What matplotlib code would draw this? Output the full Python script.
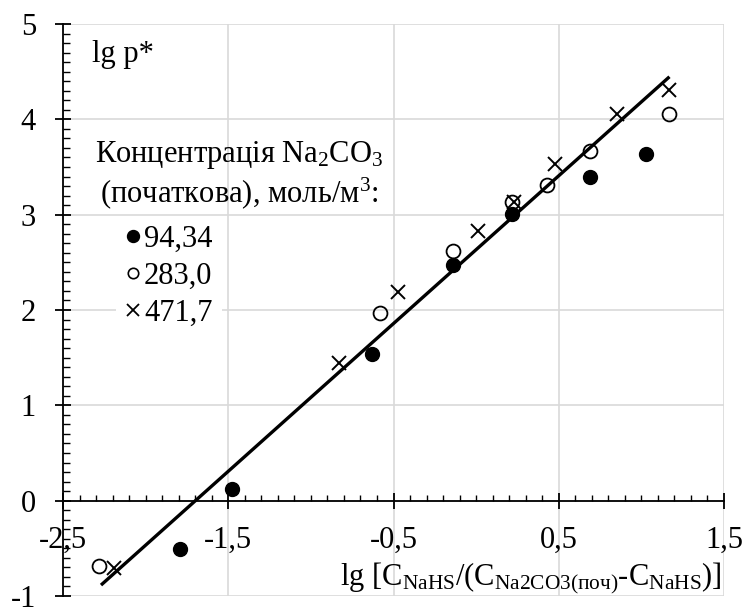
import matplotlib
matplotlib.use("Agg")
import matplotlib.pyplot as plt
import numpy as np
from matplotlib.ticker import MultipleLocator, FixedLocator
from matplotlib.lines import Line2D

plt.rcParams['font.family'] = ['Liberation Serif', 'DejaVu Serif']
plt.rcParams['mathtext.fontset'] = 'custom'
plt.rcParams['mathtext.rm'] = 'Liberation Serif'
plt.rcParams['mathtext.it'] = 'Liberation Serif:italic'
plt.rcParams['mathtext.default'] = 'rm'

# ---- data ----
x_94 = [-1.79, -1.48, -0.63, -0.14, 0.22, 0.69, 1.03]
y_94 = [-0.51, 0.12, 1.54, 2.47, 3.01, 3.40, 3.64]

x_283 = [-2.28, -0.58, -0.14, 0.22, 0.43, 0.69, 1.17]
y_283 = [-0.69, 1.97, 2.62, 3.13, 3.31, 3.67, 4.06]

x_472 = [-2.19, -0.83, -0.47, 0.01, 0.23, 0.48, 0.85, 1.17]
y_472 = [-0.71, 1.44, 2.19, 2.83, 3.13, 3.53, 4.06, 4.31]

fit_slope = 1.55
fit_intercept = 2.633
fit_x_range = [-2.27, 1.17]

series_labels = ['94,34', '283,0', '471,7']
x_ticks = [-2.5, -1.5, -0.5, 0.5, 1.5]
x_tick_labels = ['-2,5', '-1,5', '-0,5', '0,5', '1,5']
y_ticks = [-1, 0, 1, 2, 3, 4, 5]
y_tick_labels = ['-1', '0', '1', '2', '3', '4', '5']

FS = 22

# ---- figure ----
W, H = 747, 608
fig = plt.figure(figsize=(W / 100, H / 100), dpi=100)
ax = fig.add_axes([63 / W, 12 / H, 661 / W, 572 / H])
ax.set_xlim(-2.5, 1.5)
ax.set_ylim(-1, 5)

grid_c = '#d9d9d9'
for xv in x_ticks:
    ax.axvline(xv, color=grid_c, lw=1.2, zorder=0)
for yv in y_ticks:
    ax.axhline(yv, color=grid_c, lw=1.2, zorder=0)

ax.spines['top'].set_visible(False)
ax.spines['right'].set_visible(False)
ax.spines['bottom'].set_position(('data', 0))
ax.spines['bottom'].set_linewidth(1.3)
ax.spines['left'].set_linewidth(1.3)
ax.spines['bottom'].set_zorder(1)
ax.spines['left'].set_zorder(1)

ax.xaxis.set_major_locator(FixedLocator(x_ticks))
ax.set_xticklabels(x_tick_labels)
ax.xaxis.set_minor_locator(MultipleLocator(0.1))
ax.yaxis.set_major_locator(FixedLocator(y_ticks))
ax.set_yticklabels(y_tick_labels)
ax.yaxis.set_minor_locator(MultipleLocator(0.1))

ax.tick_params(axis='x', which='major', direction='inout', length=12, width=1.3,
               labelsize=FS, pad=12)
ax.tick_params(axis='x', which='minor', direction='in', length=4.3, width=1.0)
ax.tick_params(axis='y', which='major', direction='inout', length=11, width=1.3,
               labelsize=FS, pad=14)
ax.tick_params(axis='y', which='minor', direction='in', length=5, width=1.0)

# fit line
lx = np.array(fit_x_range)
ax.plot(lx, fit_slope * lx + fit_intercept, color='black', lw=2.4, zorder=3,
        solid_capstyle='butt')

ax.plot(x_94, y_94, linestyle='none', marker='o', ms=10, mfc='black',
        mec='black', zorder=4)
ax.plot(x_283, y_283, linestyle='none', marker='o', ms=10, mfc='none',
        mec='black', mew=1.3, zorder=4)
ax.plot(x_472, y_472, linestyle='none', marker='x', ms=9.5,
        mec='black', mew=1.4, zorder=4)

handles = [
    Line2D([], [], linestyle='none', marker='o', ms=8.6, mfc='black', mec='black'),
    Line2D([], [], linestyle='none', marker='o', ms=7.5, mfc='none', mec='black', mew=1.2),
    Line2D([], [], linestyle='none', marker='x', ms=8.2, mec='black', mew=1.3),
]
leg = fig.legend(handles=handles, labels=series_labels, loc='upper left',
                 bbox_to_anchor=(116 / W, 1 - 216 / H),
                 fontsize=FS, frameon=True, fancybox=False, framealpha=1,
                 facecolor='white', edgecolor='none', handlelength=0.5,
                 handletextpad=0.12, labelspacing=0.25, borderpad=0.3,
                 borderaxespad=0)
leg.set_zorder(5)

ax.text(0.044, 0.946, 'lg p*', transform=ax.transAxes, fontsize=FS,
        ha='left', va='center')
ax.text(0.266, 0.771, 'Концентрація Na$_2$CO$_3$', transform=ax.transAxes,
        fontsize=FS, ha='center', va='center')
ax.text(0.266, 0.705, '(початкова), моль/м$^3$:', transform=ax.transAxes,
        fontsize=FS, ha='center', va='center')

fig.text(722 / W, 1 - 578 / H,
         'lg [C$_{\\mathrm{NaHS}}$/(C$_{\\mathrm{Na2CO3(поч)}}$-C$_{\\mathrm{NaHS}}$)]',
         fontsize=FS, ha='right', va='center')

fig.savefig('out.png', dpi=100)
